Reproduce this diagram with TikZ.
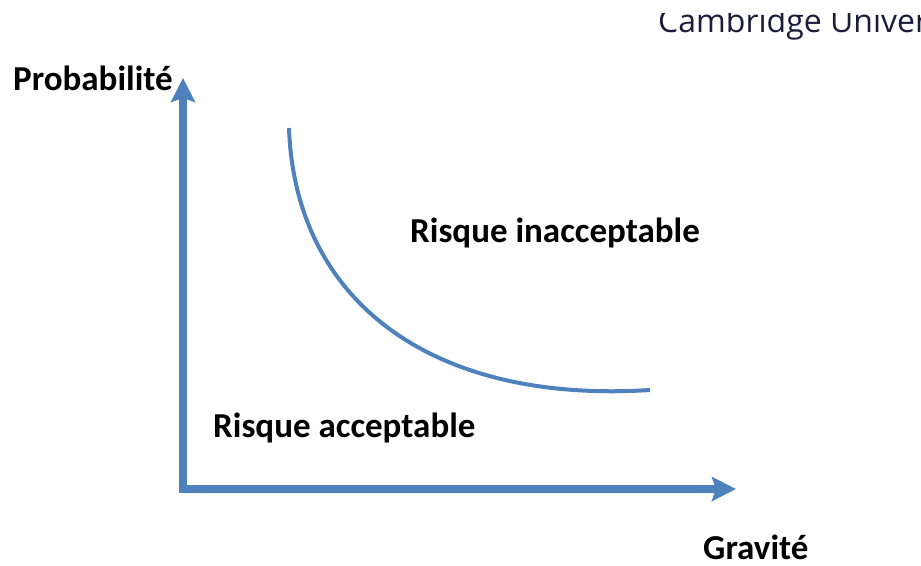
\documentclass[tikz,border=0pt]{standalone}
\usepackage{fontspec}
\setmainfont{Carlito}
\newfontfamily\univfont{Open Sans}
\usetikzlibrary{arrows.meta}
\definecolor{riskblue}{HTML}{4F81BD}
\definecolor{univnavy}{HTML}{1B1B3A}
\begin{document}
\begin{tikzpicture}[x=1pt,y=-1pt,
	axis/.style={draw=riskblue,line width=7.5pt},
	riskcurve/.style={draw=riskblue,line width=4pt},
	zone/.style={font=\fontsize{35}{40}\selectfont\bfseries,inner sep=0pt,anchor=base west}]
\useasboundingbox (0,0) rectangle (921,565);
% header, cut at the top
\begin{scope}
\clip (0,13) rectangle (921,565);
\node[font=\univfont\fontsize{32}{36}\selectfont,text=univnavy,inner sep=0pt,anchor=base west] (univ) at (658,32) {Cambridge University};
\end{scope}
% axes
\coordinate (origin) at (183,489);
\coordinate (probtip) at (183,78);
\coordinate (gravtip) at (736,489);
\draw[axis,{Stealth[length=24pt,width=24pt,inset=4pt]}-{Stealth[length=24pt,width=24pt,inset=4pt]}] (probtip) |- (gravtip);
% limit curve
\coordinate (cstart) at (289,128);
\coordinate (cend) at (650,390);
\draw[riskcurve] (cstart) .. controls (295,300) and (430,404) .. (cend);
% labels
\node[zone] (prob) at (13,90) {Probabilité};
\node[zone] (grav) at (703,559) {Gravité};
\node[zone] (inacc) at (410,242) {Risque inacceptable};
\node[zone] (acc) at (213,437) {Risque acceptable};
\end{tikzpicture}
\end{document}
